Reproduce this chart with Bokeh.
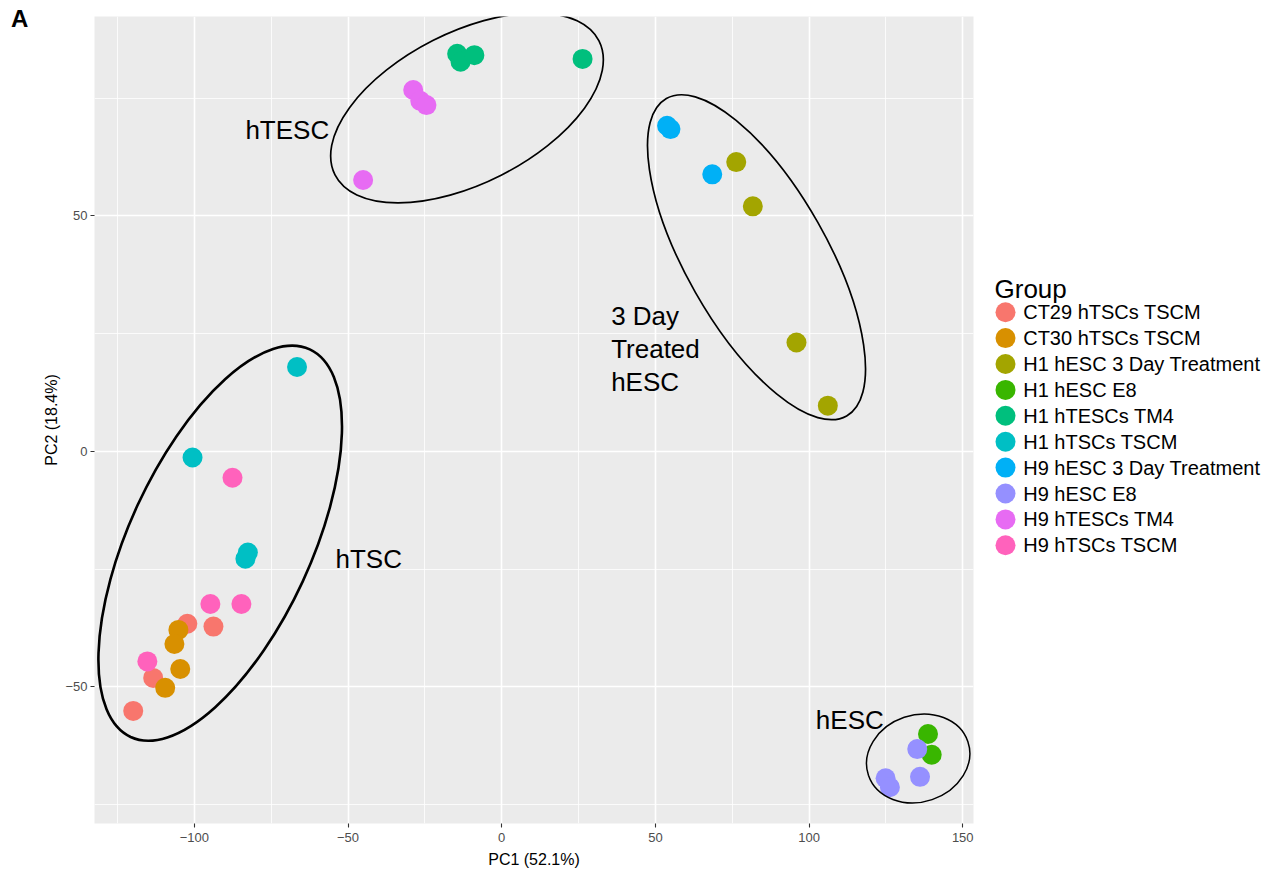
from bokeh.plotting import figure
from bokeh.models import Range1d, FixedTicker, Div
from bokeh.layouts import row
from bokeh.embed import file_html
from bokeh.resources import INLINE
from bokeh.core.properties import value

# ---------------- data ----------------
groups = ["CT29 hTSCs TSCM", "CT30 hTSCs TSCM", "H1 hESC 3 Day Treatment",
          "H1 hESC E8", "H1 hTESCs TM4", "H1 hTSCs TSCM",
          "H9 hESC 3 Day Treatment", "H9 hESC E8", "H9 hTESCs TM4", "H9 hTSCs TSCM"]
colors = ["#F8766D", "#D89000", "#A3A500", "#39B600", "#00BF7D",
          "#00BFC4", "#00B0F6", "#9590FF", "#E76BF3", "#FF62BC"]

ct29_x = [-119.9, -113.4, -102.3, -93.8]
ct29_y = [-55.1, -48.1, -36.6, -37.2]
ct30_x = [-105.2, -106.5, -104.6, -109.5]
ct30_y = [-37.9, -40.9, -46.2, -50.2]
h1_3d_x = [76.3, 81.7, 95.9, 106.1]
h1_3d_y = [61.4, 52.0, 23.1, 9.7]
h1_e8_x = [138.7, 139.9]
h1_e8_y = [-60.0, -64.4]
h1_tesc_x = [-14.5, -13.4, -8.9, 26.3]
h1_tesc_y = [84.4, 82.7, 84.1, 83.3]
h1_tsc_x = [-66.6, -100.6, -82.6, -83.4]
h1_tsc_y = [17.9, -1.3, -21.5, -22.8]
h9_3d_x = [53.8, 54.9, 68.5]
h9_3d_y = [69.1, 68.4, 58.8]
h9_e8_x = [135.2, 124.9, 126.3, 136.1]
h9_e8_y = [-63.2, -69.4, -71.3, -69.1]
h9_tesc_x = [-28.8, -26.5, -24.5, -45.1]
h9_tesc_y = [76.7, 74.4, 73.5, 57.6]
h9_tsc_x = [-115.3, -94.8, -84.7, -87.6]
h9_tsc_y = [-44.6, -32.4, -32.4, -5.6]

group_x = [ct29_x, ct30_x, h1_3d_x, h1_e8_x, h1_tesc_x, h1_tsc_x, h9_3d_x, h9_e8_x, h9_tesc_x, h9_tsc_x]
group_y = [ct29_y, ct30_y, h1_3d_y, h1_e8_y, h1_tesc_y, h1_tsc_y, h9_3d_y, h9_e8_y, h9_tesc_y, h9_tsc_y]

x_ticks = [-100, -50, 0, 50, 100, 150]
x_minor = [-125, -75, -25, 25, 75, 125]
y_ticks = [-50, 0, 50]
y_minor = [-75, -25, 25, 75]

# cluster ellipses (centre in data units, axes in screen px, angle in degrees)
ell_x = [-11.3, 82.9, -91.6, 135.5]
ell_y = [72.9, 41.2, -19.5, -65.2]
ell_w = [296, 365, 427, 105]
ell_h = [151, 141, 182, 87]
ell_angle = [26.9, -60.4, 65.2, 18.7]
ell_lw = [1.7, 1.7, 2.6, 1.5]

cluster_text = ["hTESC", "3 Day", "Treated", "hESC", "hTSC", "hESC"]
cluster_x = [-83.4, 35.6, 35.6, 35.6, -54.1, 102.2]
cluster_y = [68.2, 28.8, 21.7, 14.8, -22.8, -57.0]

FONT = "Liberation Sans"
H = 873
FRAME_TOP, FRAME_BOTTOM = 16, 823

# ---------------- panel letter ----------------
a = Div(text="A", width=30, height=60, margin=0,
        styles={"font-family": FONT, "font-size": "24px", "font-weight": "bold",
                "line-height": "24px", "padding-top": "7px", "padding-left": "11px",
                "color": "black", "box-sizing": "border-box"})

# ---------------- main plot ----------------
p = figure(width=948, height=H,
           x_range=Range1d(-132.5, 153.5), y_range=Range1d(-79, 92.3),
           output_backend="svg", toolbar_location=None,
           min_border_left=64, min_border_right=5,
           min_border_top=FRAME_TOP, min_border_bottom=H - FRAME_BOTTOM)
p.background_fill_color = "#EBEBEB"
p.border_fill_color = "white"
p.outline_line_color = None

p.xaxis.ticker = FixedTicker(ticks=x_ticks, minor_ticks=x_minor)
p.yaxis.ticker = FixedTicker(ticks=y_ticks, minor_ticks=y_minor)
for g in (p.xgrid, p.ygrid):
    g.grid_line_color = "white"
    g.grid_line_width = 1.6
    g.minor_grid_line_color = "white"
    g.minor_grid_line_width = 0.8
for ax in (p.xaxis, p.yaxis):
    ax.axis_line_color = None
    ax.major_tick_line_color = "#333333"
    ax.major_tick_line_width = 1.1
    ax.major_tick_out = 4
    ax.major_tick_in = 0
    ax.minor_tick_line_color = None
    ax.major_label_text_font = FONT
    ax.major_label_text_font_size = "13px"
    ax.major_label_text_color = "#4D4D4D"
    ax.axis_label_text_font = FONT
    ax.axis_label_text_font_size = "16px"
    ax.axis_label_text_font_style = "normal"
    ax.axis_label_text_color = "black"
p.xaxis.axis_label = "PC1 (52.1%)"
p.yaxis.axis_label = "PC2 (18.4%)"
p.xaxis.major_label_standoff = 5
p.yaxis.major_label_standoff = 3
p.xaxis.axis_label_standoff = 6
p.yaxis.axis_label_standoff = 2

for gx, gy, c in zip(group_x, group_y, colors):
    p.scatter(gx, gy, size=20, fill_color=c, line_color=None, marker="circle")

p.ellipse(x=ell_x, y=ell_y, width=ell_w, height=ell_h, angle=ell_angle,
          angle_units="deg", width_units="screen", height_units="screen",
          fill_color=None, line_color="black", line_width=ell_lw)

p.text(x=cluster_x, y=cluster_y, text=cluster_text, text_font=value(FONT),
       text_font_size="26px", text_color="black", text_baseline="alphabetic",
       text_align="left")

# ---------------- legend panel (frame aligned with main frame; y = page px) ----------------
LW = 292
q = figure(width=LW, height=H, x_range=Range1d(0, LW), y_range=Range1d(FRAME_BOTTOM, FRAME_TOP),
           output_backend="svg", toolbar_location=None,
           x_axis_location=None, y_axis_location=None,
           min_border_left=0, min_border_right=0,
           min_border_top=FRAME_TOP, min_border_bottom=H - FRAME_BOTTOM)
q.grid.visible = False
q.outline_line_color = None
q.background_fill_color = "white"
q.border_fill_color = "white"

row0, row_step = 311.7, 25.9
ly = [row0 + i * row_step for i in range(len(groups))]
q.scatter([27] * len(groups), ly, size=20, fill_color=colors, line_color=None, marker="circle")
q.text(x=[44.7] * len(groups), y=ly, text=groups, text_font=value(FONT),
       text_font_size="20px", text_baseline="middle", text_align="left", text_color="black")
q.text(x=[16], y=[288.3], text=["Group"], text_font=value(FONT),
       text_font_size="26px", text_baseline="alphabetic", text_align="left", text_color="black")

layout = row(a, p, q)
open("out.html", "w").write(file_html(layout, INLINE))
